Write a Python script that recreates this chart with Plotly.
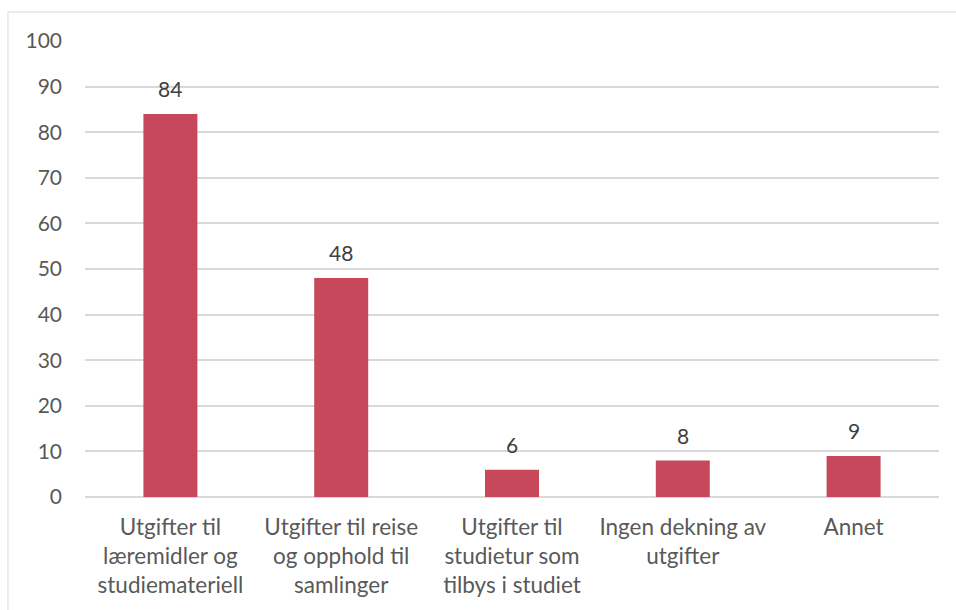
import plotly.graph_objects as go

# Expense categories and share of respondents (%)
categories = [
    "Utgifter til<br>læremidler og<br>studiemateriell",
    "Utgifter til reise<br>og opphold til<br>samlinger",
    "Utgifter til<br>studietur som<br>tilbys i studiet",
    "Ingen dekning av<br>utgifter",
    "Annet",
]
values = [84, 48, 6, 8, 9]
y_ticks = [0, 10, 20, 30, 40, 50, 60, 70, 80, 90, 100]

FONT = "Lato, 'Open Sans', sans-serif"
BAR = "#C7485A"
GRID = "#D9D9D9"

fig = go.Figure(
    go.Bar(
        x=categories,
        y=values,
        marker=dict(color=BAR, line=dict(width=0)),
        hoverinfo="skip",
    )
)

# Value labels above each bar
for cat, val in zip(categories, values):
    fig.add_annotation(
        x=cat, y=val, text=str(val), showarrow=False,
        yanchor="bottom", yshift=11,
        font=dict(family=FONT, size=21, color="#404040"),
    )

# Thin outer frame of the chart area
fig.add_shape(
    type="rect", xref="paper", yref="paper",
    x0=-0.0902, y0=-0.6, x1=1.2, y1=1.0636,
    line=dict(color=GRID, width=1), fillcolor="rgba(0,0,0,0)", layer="below",
)

fig.update_layout(
    width=956, height=610,
    margin=dict(l=85, r=17, t=41, b=113),
    paper_bgcolor="white", plot_bgcolor="white",
    bargap=0.684,
    showlegend=False,
    font=dict(family=FONT, size=21, color="#595959"),
    xaxis=dict(
        showgrid=False, zeroline=False, showline=False,
        ticks="", ticklabelstandoff=14,
        tickfont=dict(family=FONT, size=22.5, color="#595959"),
    ),
    yaxis=dict(
        range=[0, 100], tickvals=y_ticks,
        showgrid=True, gridcolor=GRID, gridwidth=1.5,
        zeroline=True, zerolinecolor=GRID, zerolinewidth=1.5,
        showline=False, ticks="", ticklabelstandoff=22,
        tickfont=dict(family=FONT, size=21, color="#595959"),
    ),
)

fig.write_html("out.html")
